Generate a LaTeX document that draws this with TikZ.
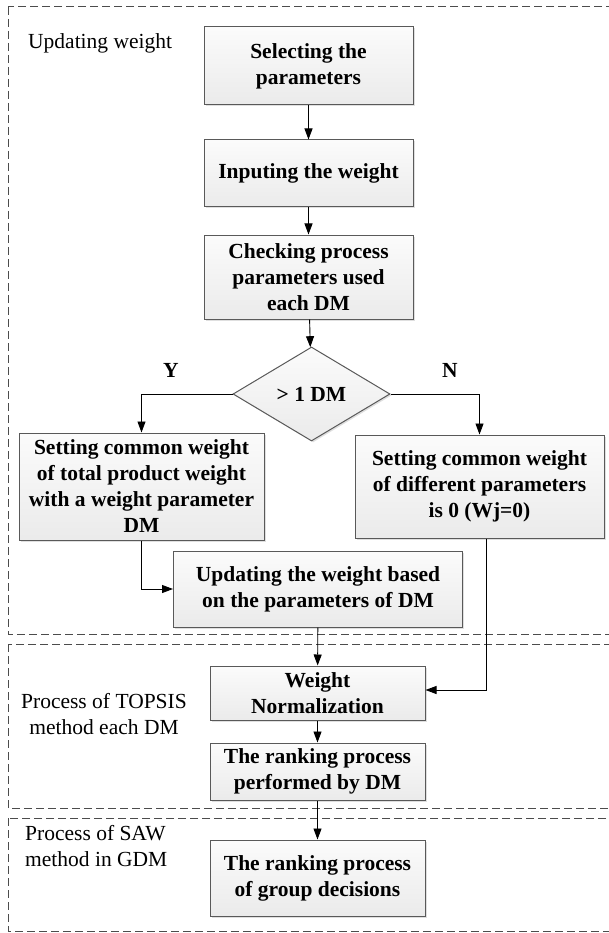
\documentclass[tikz,border=0pt]{standalone}
\usepackage{fontspec}
\setmainfont{Liberation Serif}
\usetikzlibrary{shapes.geometric,arrows.meta,shadows}

\begin{document}
\begin{tikzpicture}[
        x=1pt, y=-1pt,
        >={Triangle[length=11pt,width=8pt]},
        box/.style={rectangle, draw=black!65, line width=1pt, top color=gray!3, bottom color=gray!16,
            drop shadow={opacity=0.25, shadow xshift=1.5pt, shadow yshift=-1.5pt},
            align=center, inner sep=0pt, font=\fontsize{21.5}{26}\selectfont\bfseries},
        decision/.style={diamond, draw=black!65, line width=1pt, top color=gray!3, bottom color=gray!16,
            drop shadow={opacity=0.25, shadow xshift=1.5pt, shadow yshift=-1.5pt},
            inner sep=0pt, font=\fontsize{21.5}{26}\selectfont\bfseries},
        region/.style={draw=black!70, line width=1pt, dash pattern=on 8pt off 4pt},
        lbl/.style={inner sep=0pt, font=\fontsize{21.5}{26}\selectfont},
        tag/.style={inner sep=0pt, font=\fontsize{21.5}{26}\selectfont\bfseries},
        conn/.style={draw, line width=0.9pt}
    ]
        \useasboundingbox (0,0) rectangle (608,933);

        % dashed regions
        \draw[region] (8,7) rectangle (620,634);
        \draw[region] (8,644) rectangle (620,808);
        \draw[region] (8,818) rectangle (620,931);

        \node[lbl, anchor=west] (lup) at (28,43) {Updating weight};
        \node[lbl, align=center] (ltop) at (104,714) {Process of TOPSIS\\method each DM};
        \node[lbl, align=left, anchor=west] (lsaw) at (25,846) {Process of SAW\\method in GDM};

        % steps
        \node[box, minimum width=209pt, minimum height=78pt] (sel) at (308.5,66) {Selecting the\\parameters};
        \node[box, minimum width=209pt, minimum height=67pt] (inp) at (308.5,173.5) {Inputing the weight};
        \node[box, minimum width=209pt, minimum height=84pt] (chk) at (308.5,277) {Checking process\\parameters used\\each DM};
        \node[decision, minimum width=157pt, minimum height=94pt] (dec) at (311.5,394) {> 1 DM};
        \node[box, minimum width=245pt, minimum height=107pt] (yes) at (141.5,486.5) {Setting common weight\\of total product weight\\with a weight parameter\\DM};
        \node[box, minimum width=249pt, minimum height=103pt] (no) at (479.5,486.5) {Setting common weight\\of different parameters\\is 0 (Wj=0)};
        \node[box, minimum width=289pt, minimum height=76pt] (upd) at (318,589) {Updating the weight based\\on the parameters of DM};
        \node[box, minimum width=215pt, minimum height=54pt] (nor) at (317.5,693) {Weight\\Normalization};
        \node[box, minimum width=215pt, minimum height=57pt] (rnk) at (317.5,771.5) {The ranking process\\performed by DM};
        \node[box, minimum width=215pt, minimum height=76pt] (grp) at (317.5,878) {The ranking process\\of group decisions};

        \node[tag] (ylab) at (171,370) {Y};
        \node[tag] (nlab) at (450,370) {N};

        \draw[conn, ->] (sel) -- (inp);
        \draw[conn, ->] (inp) -- (chk);
        \draw[conn, ->] (chk) -- (dec);
        \draw[conn, ->] (dec.west) -| (yes.north);
        \draw[conn, ->] (dec.east) -| (no.north);
        \draw[conn, ->] (yes.south) |- (upd.west);
        \draw[conn, ->] (upd) -- (nor);
        \draw[conn, ->] ([xshift=7pt]no.south) |- ([yshift=3pt]nor.east);
        \draw[conn, ->] (nor) -- (rnk);
        \draw[conn, ->] (rnk) -- (grp);
    \end{tikzpicture}
\end{document}
